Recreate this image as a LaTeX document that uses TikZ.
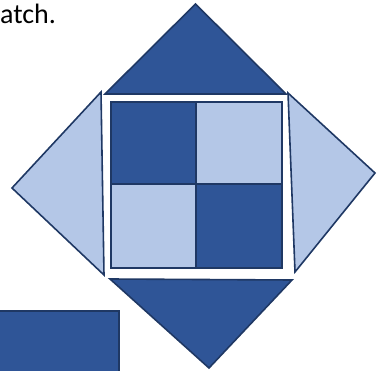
\documentclass[tikz,border=0pt]{standalone}
\usepackage{fontspec}
\setmainfont{Carlito}
\definecolor{darkfill}{HTML}{2F5597}
\definecolor{lightfill}{HTML}{B4C7E7}
\definecolor{edge}{HTML}{1F3864}
\begin{document}
\begin{tikzpicture}[x=1pt,y=-1pt,
  darkpiece/.style={fill=darkfill,draw=edge,line width=1.6pt,line join=miter},
  lightpiece/.style={fill=lightfill,draw=edge,line width=1.6pt,line join=miter}]
\useasboundingbox (0,0) rectangle (377,371);
\begin{scope}
\clip (0,0) rectangle (377,371);
% text
\node[anchor=base west,inner sep=0pt,font=\fontsize{28}{31}\selectfont] (txt) at (0,24) {atch.};
% triangles
\draw[darkpiece] (105,94) -- (195.5,4) -- (286,94) -- cycle;
\draw[lightpiece] (101,92) -- (12,188) -- (104,275) -- cycle;
\draw[lightpiece] (288,93) -- (375,173) -- (295,272) -- cycle;
\draw[darkpiece] (110,279) -- (292,280) -- (209,368) -- cycle;
% grid
\draw[darkpiece] (111,102) rectangle (196,184);
\draw[lightpiece] (196,102) rectangle (282,184);
\draw[lightpiece] (111,184) rectangle (196,268);
\draw[darkpiece] (196,184) rectangle (282,268);
% rectangle bottom-left
\draw[darkpiece] (-5,311) rectangle (119,380);
\end{scope}
\end{tikzpicture}
\end{document}
